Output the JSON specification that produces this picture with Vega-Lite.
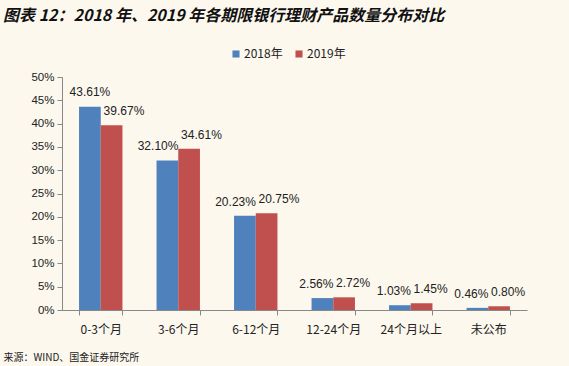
{
  "$schema": "https://vega.github.io/schema/vega-lite/v6.json",
  "width": 465,
  "height": 233,
  "autosize": {"type": "none"},
  "padding": {"left": 62, "top": 77, "right": 42, "bottom": 56},
  "background": "#fcf8ee",
  "view": {"stroke": null},
  "title": {
    "text": "图表 12：2018 年、2019 年各期限银行理财产品数量分布对比",
    "anchor": "start",
    "frame": "group",
    "dx": -59,
    "offset": 24,
    "font": "Noto Sans CJK SC",
    "fontSize": 16,
    "fontWeight": "bold",
    "fontStyle": "italic",
    "color": "#111111"
  },
  "data": {
    "values": [
      {"period": "0-3个月", "year": "2018年", "value": 0.4361},
      {"period": "0-3个月", "year": "2019年", "value": 0.3967},
      {"period": "3-6个月", "year": "2018年", "value": 0.3210},
      {"period": "3-6个月", "year": "2019年", "value": 0.3461},
      {"period": "6-12个月", "year": "2018年", "value": 0.2023},
      {"period": "6-12个月", "year": "2019年", "value": 0.2075},
      {"period": "12-24个月", "year": "2018年", "value": 0.0256},
      {"period": "12-24个月", "year": "2019年", "value": 0.0272},
      {"period": "24个月以上", "year": "2018年", "value": 0.0103},
      {"period": "24个月以上", "year": "2019年", "value": 0.0145},
      {"period": "未公布", "year": "2018年", "value": 0.0046},
      {"period": "未公布", "year": "2019年", "value": 0.0080}
    ]
  },
  "encoding": {
    "x": {
      "field": "period",
      "type": "nominal",
      "sort": ["0-3个月", "3-6个月", "6-12个月", "12-24个月", "24个月以上", "未公布"],
      "scale": {"paddingInner": 0.44, "paddingOuter": 0.22},
      "axis": {
        "title": "来源：WIND、国金证券研究所",
        "titleX": -59,
        "titleY": 47,
        "titleAlign": "left",
        "titleBaseline": "middle",
        "titleFont": "Noto Sans CJK SC",
        "titleFontSize": 10,
        "titleFontWeight": "normal",
        "titleColor": "#222222",
        "labelAngle": 0,
        "labelFont": "Noto Sans CJK SC",
        "labelFontSize": 12,
        "labelColor": "#222222",
        "labelPadding": 9,
        "tickBand": "extent",
        "tickSize": 5,
        "tickColor": "#888888",
        "domainColor": "#888888"
      }
    },
    "xOffset": {"field": "year", "type": "nominal", "sort": ["2018年", "2019年"]},
    "y": {
      "field": "value",
      "type": "quantitative",
      "scale": {"domain": [0, 0.5]},
      "axis": {
        "title": null,
        "format": ".0%",
        "values": [0, 0.05, 0.1, 0.15, 0.2, 0.25, 0.3, 0.35, 0.4, 0.45, 0.5],
        "grid": false,
        "labelFont": "Liberation Sans",
        "labelFontSize": 11.5,
        "labelColor": "#222222",
        "labelPadding": 3,
        "tickSize": 5,
        "tickColor": "#888888",
        "domainColor": "#888888"
      }
    }
  },
  "layer": [
    {
      "mark": {"type": "bar"},
      "encoding": {
        "color": {
          "field": "year",
          "type": "nominal",
          "scale": {"domain": ["2018年", "2019年"], "range": ["#4f81bd", "#c0504d"]},
          "legend": {
            "title": null,
            "orient": "none",
            "legendX": 168,
            "legendY": -29,
            "direction": "horizontal",
            "symbolType": "square",
            "symbolSize": 50,
            "symbolStrokeWidth": 0,
            "labelFont": "Noto Sans CJK SC",
            "labelFontSize": 12,
            "labelColor": "#222222",
            "labelOffset": 2,
            "columnPadding": 10
          }
        }
      }
    },
    {
      "transform": [{"filter": "datum.year === '2018年' && datum.period === '0-3个月'"}],
      "mark": {"type": "text", "align": "center", "dy": -15, "font": "Liberation Sans", "fontSize": 12, "color": "#222222"},
      "encoding": {
        "text": {"field": "value", "type": "quantitative", "format": ".2%"}
      }
    },
    {
      "transform": [{"filter": "datum.year === '2018年' && datum.period !== '0-3个月'"}],
      "mark": {"type": "text", "align": "right", "dx": 11, "dy": -14, "font": "Liberation Sans", "fontSize": 12, "color": "#222222"},
      "encoding": {
        "text": {"field": "value", "type": "quantitative", "format": ".2%"}
      }
    },
    {
      "transform": [{"filter": "datum.year === '2019年'"}],
      "mark": {"type": "text", "align": "left", "dx": -8, "dy": -14, "font": "Liberation Sans", "fontSize": 12, "color": "#222222"},
      "encoding": {
        "text": {"field": "value", "type": "quantitative", "format": ".2%"}
      }
    }
  ]
}
